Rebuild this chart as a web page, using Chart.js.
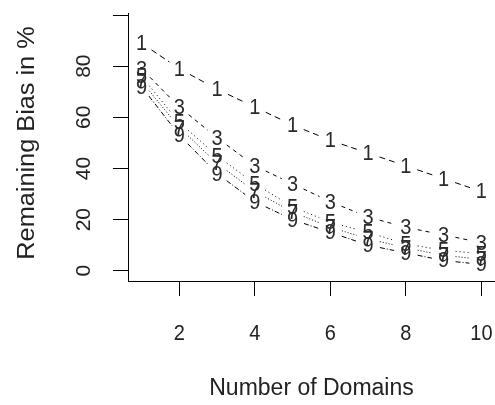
<!DOCTYPE html>
<html>
<head>
<meta charset="utf-8">
<script src="https://cdn.jsdelivr.net/npm/chart.js@4.4.1/dist/chart.umd.min.js"></script>
<style>
  html, body { margin: 0; padding: 0; background: #fff; }
  #wrap { width: 495px; height: 405px; }
</style>
</head>
<body>
<div id="wrap"><canvas id="c" width="495" height="405"></canvas></div>
<script>
// values
const domains = [1, 2, 3, 4, 5, 6, 7, 8, 9, 10];
const bias1 = [89, 79, 71, 64, 57, 51, 46, 41, 36, 31];
const bias3 = [79, 64, 52, 41, 34, 27, 21, 17, 14, 11];
const bias5 = [76, 58, 45, 34, 25, 19, 15, 10.5, 8, 6.7];
const bias7 = [74, 56, 42, 31, 23, 17, 12.5, 9, 6, 4.5];
const bias9 = [72, 53, 38, 27, 20, 15, 10, 7, 4, 2.5];
const marks = ['1', '3', '5', '7', '9'];
const xTicks = [2, 4, 6, 8, 10];
const yTicks = [0, 20, 40, 60, 80, 100];
const yTickLabels = ['0', '20', '40', '60', '80', ''];

const FONT = '"Liberation Sans", Arial, sans-serif';
const dashes = [[6, 4], [4, 4], [1, 3], [1, 2], [5, 2, 1, 2]];

function series(vals, i) {
    return {
        data: domains.map((d, j) => ({ x: d, y: vals[j] })),
        mark: marks[i],
        dash: dashes[i],
        showLine: false,
        pointRadius: 0
    };
}

// tall text, the reference glyphs are a bit stretched vertically
function tallText(ctx, s, x, y, sy) {
    ctx.save();
    ctx.translate(x, y);
    ctx.scale(1, sy);
    ctx.fillText(s, 0, 0);
    ctx.restore();
}

// R type="b": dashed segments with gaps, digits as the plotting symbols
const typeB = {
    id: 'typeB',
    afterDatasetsDraw(chart) {
        const ctx = chart.ctx;
        const gap = 12;
        chart.data.datasets.forEach((ds, i) => {
            const pts = chart.getDatasetMeta(i).data;
            ctx.save();
            ctx.strokeStyle = '#000';
            ctx.lineWidth = 1;
            ctx.setLineDash(ds.dash);
            for (let j = 0; j < pts.length - 1; j++) {
                const a = pts[j], b = pts[j + 1];
                const dx = b.x - a.x, dy = b.y - a.y;
                const L = Math.sqrt(dx * dx + dy * dy);
                if (L <= 2 * gap) continue;
                const ux = dx / L, uy = dy / L;
                ctx.beginPath();
                ctx.moveTo(a.x + ux * gap, a.y + uy * gap);
                ctx.lineTo(b.x - ux * gap, b.y - uy * gap);
                ctx.stroke();
            }
            ctx.setLineDash([]);
            ctx.fillStyle = '#2a2a2a';
            ctx.font = '20px ' + FONT;
            ctx.textAlign = 'center';
            ctx.textBaseline = 'middle';
            pts.forEach(p => tallText(ctx, ds.mark, p.x, p.y + 1, 1.08));
            ctx.restore();
        });
    },
    afterDraw(chart) {
        const ctx = chart.ctx;
        const xs = chart.scales.x, ys = chart.scales.y;
        const ca = chart.chartArea;
        ctx.save();
        ctx.fillStyle = '#222';
        ctx.textAlign = 'center';
        ctx.textBaseline = 'middle';
        ctx.font = '20px ' + FONT;
        xTicks.forEach(t => tallText(ctx, String(t), xs.getPixelForValue(t), 334, 1.1));
        yTicks.forEach((t, i) => {
            if (!yTickLabels[i]) return;
            ctx.save();
            ctx.translate(84, ys.getPixelForValue(t));
            ctx.rotate(-Math.PI / 2);
            ctx.scale(1.05, 1);
            ctx.fillText(yTickLabels[i], 0, 0);
            ctx.restore();
        });
        ctx.font = '23px ' + FONT;
        ctx.fillText('Number of Domains', (ca.left + ca.right) / 2, 389);
        ctx.translate(28, (ca.top + ca.bottom) / 2 - 4);
        ctx.rotate(-Math.PI / 2);
        ctx.scale(1.1, 1);
        ctx.fillText('Remaining Bias in %', 0, 0);
        ctx.restore();
    }
};

new Chart(document.getElementById('c'), {
    type: 'line',
    data: {
        datasets: [
            series(bias1, 0), series(bias3, 1), series(bias5, 2),
            series(bias7, 3), series(bias9, 4)
        ]
    },
    options: {
        responsive: false,
        animation: false,
        layout: { padding: { top: 13, right: 0, left: 0, bottom: 0 } },
        plugins: { legend: { display: false }, tooltip: { enabled: false } },
        scales: {
            x: {
                type: 'linear',
                min: 0.64, max: 10.36,
                afterBuildTicks(s) { s.ticks = xTicks.map(v => ({ value: v })); },
                afterFit(s) { s.height = 124; },
                ticks: { display: false },
                grid: { drawOnChartArea: false, drawTicks: true, tickLength: 15, color: '#000', lineWidth: 1 },
                border: { display: true, color: '#000', width: 1 }
            },
            y: {
                type: 'linear',
                min: -4, max: 100.8,
                afterBuildTicks(s) { s.ticks = yTicks.map(v => ({ value: v })); },
                afterFit(s) { s.width = 128; },
                ticks: { display: false },
                grid: { drawOnChartArea: false, drawTicks: true, tickLength: 15, color: '#000', lineWidth: 1 },
                border: { display: true, color: '#000', width: 1 }
            }
        }
    },
    plugins: [typeB]
});
</script>
</body>
</html>
